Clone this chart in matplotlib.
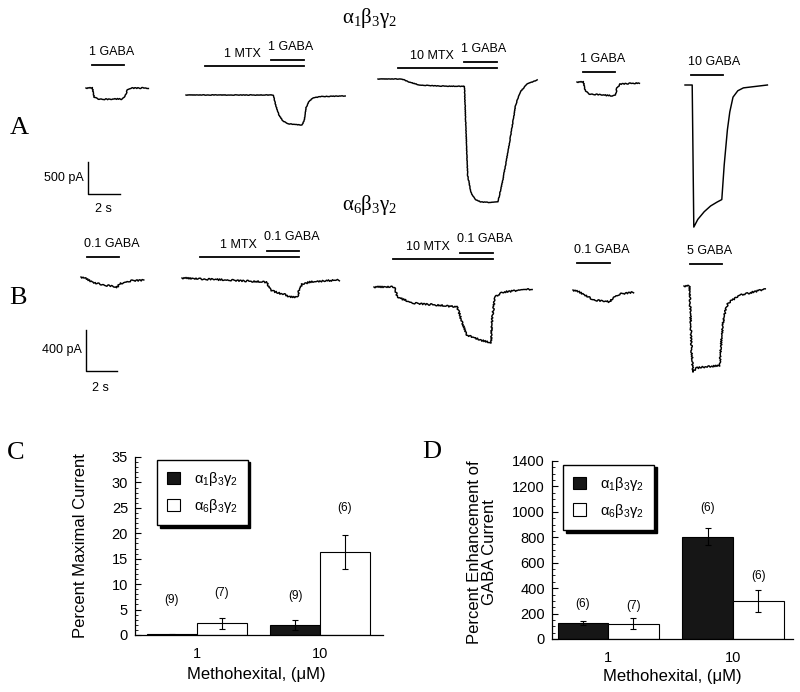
import numpy as np
import matplotlib.pyplot as plt
import matplotlib.transforms as mtransforms
from matplotlib.patches import Patch
from matplotlib.ticker import MultipleLocator

plt.rcParams['font.family'] = ['Liberation Sans', 'DejaVu Sans']

# ---- current traces: time (s) from sweep start, current (pA) from baseline ----
a1_t = [0, 0.4, 0.5, 0.7, 1.1, 1.5, 1.9, 2.2, 2.4, 2.6, 2.8, 3.9]
a1_i = [0, 0, -140, -170, -175, -180, -170, -175, -140, -30, 0, 0]
a2_t = [0, 5.45, 5.6, 5.8, 6.05, 6.4, 6.8, 7.25, 7.4, 7.5, 7.7, 7.95, 8.4, 9.95]
a2_i = [0, 0, -155, -310, -405, -450, -460, -470, -390, -200, -95, -45, -25, -15]
a3_t = [0, 1.5, 1.9, 2.6, 3.9, 5.4, 5.5, 5.6, 5.8, 6.05, 6.4, 7.0, 7.5, 7.8, 8.25, 8.6, 8.9, 9.3, 9.95]
a3_i = [0, 0, -45, -95, -110, -115, -800, -1500, -1770, -1875, -1920, -1930, -1920,
        -1580, -950, -405, -200, -80, -15]
a4_t = [0, 0.4, 0.5, 0.7, 1.4, 2.2, 2.4, 2.5, 2.7, 3.9]
a4_i = [0, 0, -125, -185, -200, -215, -200, -95, -30, -15]
a5_t = [0, 0.45, 0.5, 0.55, 0.8, 1.2, 1.6, 2.0, 2.3, 2.45, 2.65, 2.8, 3.0, 3.3, 3.65, 5.15]
a5_i = [0, 0, -1100, -2220, -2100, -1980, -1890, -1830, -1790, -1250, -700, -420, -190, -90, -45, 0]

b1_t = [0, 0.3, 0.6, 0.9, 1.25, 1.55, 1.9, 2.1, 2.3, 2.5, 2.85, 3.3, 4.05]
b1_i = [0, -15, -40, -60, -70, -80, -88, -95, -105, -68, -49, -35, -30]
b2_t = [0, 1.2, 3.1, 5.45, 5.7, 6.2, 6.6, 6.95, 7.45, 7.55, 7.75, 8.25, 9.0, 10.15]
b2_i = [0, -10, -20, -40, -117, -146, -160, -185, -185, -117, -60, -40, -30, -20]
b3_t = [0, 1.35, 1.48, 2.5, 4.0, 5.35, 5.48, 5.68, 6.0, 6.85, 7.55, 7.62, 7.8, 8.3, 10.2]
b3_i = [0, 0, -98, -156, -175, -195, -244, -350, -468, -517, -546, -320, -98, -50, -20]
b4_t = [0, 0.4, 1.3, 1.9, 2.4, 2.6, 3.0, 3.9]
b4_i = [0, -20, -95, -110, -115, -70, -40, -20]
b5_t = [0, 0.35, 0.42, 0.5, 0.58, 0.8, 1.3, 1.8, 2.3, 2.38, 2.5, 2.65, 2.85, 3.6, 5.25]
b5_i = [0, 0, -300, -650, -840, -800, -790, -785, -775, -600, -380, -250, -165, -90, -30]

# drug applications (s from sweep start); None = no methohexital
a_gaba = [(0.4, 2.4), (5.3, 7.4), (5.35, 7.45), (0.375, 2.375), (0.375, 2.375)]
a_mtx = [None, (1.2, 7.4), (1.25, 7.45), None, None]
a_gaba_lab = ['1 GABA', '1 GABA', '1 GABA', '1 GABA', '10 GABA']
a_mtx_lab = [None, '1 MTX', '10 MTX', None, None]

b_gaba = [(0.39, 2.45), (5.48, 7.55), (5.55, 7.68), (0.26, 2.39), (0.39, 2.45)]
b_mtx = [None, (1.16, 7.55), (1.23, 7.68), None, None]
b_gaba_lab = ['0.1 GABA', '0.1 GABA', '0.1 GABA', '0.1 GABA', '5 GABA']
b_mtx_lab = [None, '1 MTX', '10 MTX', None, None]

# ---- bar charts ----
conc = ['1', '10']
c_a1 = [0.1, 2.0]
c_a1_err = [0.1, 1.0]
c_a6 = [2.3, 16.3]
c_a6_err = [1.1, 3.4]
c_a1_n = ['(9)', '(9)']
c_a6_n = ['(7)', '(6)']

d_a1 = [125, 805]
d_a1_err = [18, 65]
d_a6 = [120, 300]
d_a6_err = [45, 85]
d_a1_n = ['(6)', '(6)']
d_a6_n = ['(7)', '(6)']

# ---- layout (pixels) ----
a_origin = [(86, 88), (186, 95), (378, 79), (577, 82), (685, 85)]
a_bar_y = [65, 66, 68, 72, 75]
b_origin = [(81, 277), (182, 278), (374, 287), (573, 290), (684, 286)]
b_bar_y = [257, 257, 259, 263, 264]
a_scale = (16.0, 32 / 500)      # px per s, px per pA
b_scale = (15.5, 41 / 400)

fig = plt.figure(figsize=(8, 6.92), dpi=100)
ax0 = fig.add_axes([0, 0, 1, 1])
ax0.set_xlim(0, 800)
ax0.set_ylim(692, 0)
ax0.axis('off')


def draw_panel(ts, cur, gaba, mtx, glab, mlab, origins, bar_ys, scale, noisy):
    sx, sy = scale
    for k in range(len(ts)):
        x0, y0 = origins[k]
        tr = mtransforms.Affine2D().scale(sx, -sy).translate(x0, y0) + ax0.transData
        btr = mtransforms.Affine2D().scale(sx, 1).translate(x0, 0) + ax0.transData
        ln, = ax0.plot(ts[k], cur[k], color='k', lw=1.05, transform=tr)
        if noisy[k]:
            ln.set_sketch_params(scale=noisy[k], length=1.8, randomness=2)
        by = bar_ys[k]
        if mtx[k] is not None:
            ax0.plot(mtx[k], [by, by], color='k', lw=1.3, transform=btr)
            gy = by - 6.5
            ax0.text(x0 + gaba[k][0] * sx - 10, by - 12, mlab[k], ha='right',
                     va='center', fontsize=9)
        else:
            gy = by
        ax0.plot(gaba[k], [gy, gy], color='k', lw=1.3, transform=btr)
        ax0.text(x0 + gaba[k][0] * sx - 3, gy - 13, glab[k], ha='left',
                 va='center', fontsize=9)


draw_panel([a1_t, a2_t, a3_t, a4_t, a5_t], [a1_i, a2_i, a3_i, a4_i, a5_i],
           a_gaba, a_mtx, a_gaba_lab, a_mtx_lab, a_origin, a_bar_y, a_scale,
           [0.5, 0.25, 0.25, 0.5, 0])
draw_panel([b1_t, b2_t, b3_t, b4_t, b5_t], [b1_i, b2_i, b3_i, b4_i, b5_i],
           b_gaba, b_mtx, b_gaba_lab, b_mtx_lab, b_origin, b_bar_y, b_scale,
           [0.8, 0.8, 0.8, 0.8, 0.8])

# scale bars
for (bx, by), (sx, sy), amp, lab, ty in [((88, 194), a_scale, 500, '500 pA', 209),
                                           ((86, 371), b_scale, 400, '400 pA', 388)]:
    tr = mtransforms.Affine2D().scale(sx, sy).translate(bx, by) + ax0.transData
    ax0.plot([0, 0, 2], [-amp, 0, 0], color='k', lw=1.0, transform=tr)
    ax0.text(bx - 4, by - amp * sy / 2, lab, ha='right', va='center', fontsize=9)
    ax0.text(bx + sx - 1, ty, '2 s', ha='center', va='center', fontsize=9)

ax0.text(370, 18, r'$\mathregular{\alpha_1\beta_3\gamma_2}$', ha='center', va='center',
         fontsize=15, family='Liberation Serif')
ax0.text(370, 205, r'$\mathregular{\alpha_6\beta_3\gamma_2}$', ha='center', va='center',
         fontsize=15, family='Liberation Serif')
for lab, x, y in [('A', 19, 128), ('B', 18, 298), ('C', 16, 453), ('D', 432, 452)]:
    ax0.text(x, y, lab, ha='center', va='center', fontsize=19,
             family='Liberation Serif')


def bar_panel(rect, a1, a1e, a6, a6e, n1, n6, n1_y, n6_y, ymax, major, minor,
              ylabel, ylab_xy, xlab_xy, xlim, leg_anchor):
    ax = fig.add_axes(rect)
    x = np.arange(len(conc))
    w = 0.405
    ekw = dict(ecolor='k', elinewidth=0.8, capsize=2.5, capthick=0.8)
    ax.bar(x - w / 2, a1, w, yerr=a1e, color='#161616', edgecolor='k', lw=0.8,
           error_kw=ekw)
    ax.bar(x + w / 2, a6, w, yerr=a6e, color='white', edgecolor='k', lw=0.8,
           error_kw=ekw)
    for k in range(len(conc)):
        ax.text(x[k] - w / 2, n1_y[k], n1[k], ha='center', va='center', fontsize=8.5)
        ax.text(x[k] + w / 2, n6_y[k], n6[k], ha='center', va='center', fontsize=8.5)
    ax.set_xlim(*xlim)
    ax.set_ylim(0, ymax)
    ax.set_xticks(x)
    ax.set_xticklabels(conc, fontsize=10.5)
    ax.yaxis.set_major_locator(MultipleLocator(major))
    ax.yaxis.set_minor_locator(MultipleLocator(minor))
    ax.tick_params(axis='x', length=0, pad=9)
    ax.tick_params(axis='y', which='major', direction='in', length=4, width=0.8,
                   labelsize=10.5, pad=5)
    ax.tick_params(axis='y', which='minor', direction='in', length=2.5, width=0.6)
    for s in ['top', 'right']:
        ax.spines[s].set_visible(False)
    for s in ['left', 'bottom']:
        ax.spines[s].set_linewidth(0.9)
    ax.set_ylabel(ylabel, fontsize=12, linespacing=1.0)
    ax.yaxis.set_label_coords(*ylab_xy)
    ax.set_xlabel('Methohexital, (\u03bcM)', fontsize=12)
    ax.xaxis.set_label_coords(*xlab_xy)
    handles = [Patch(facecolor='#161616', edgecolor='k', lw=0.8),
               Patch(facecolor='white', edgecolor='k', lw=0.8)]
    leg = ax.legend(handles, [r'$\mathregular{\alpha_1\beta_3\gamma_2}$',
                              r'$\mathregular{\alpha_6\beta_3\gamma_2}$'],
                    loc='upper left', bbox_to_anchor=leg_anchor, fontsize=10.5,
                    frameon=True, fancybox=False, edgecolor='k',
                    shadow={'color': 'k', 'alpha': 1.0},
                    handlelength=0.9, handleheight=0.9, handletextpad=0.9,
                    borderpad=0.7, labelspacing=0.6, borderaxespad=0)
    leg.get_frame().set_linewidth(1.0)
    return ax


bar_panel([135 / 800, 57 / 692, 248 / 800, 178 / 692], c_a1, c_a1_err, c_a6, c_a6_err,
          c_a1_n, c_a6_n, [6.9, 7.7], [8.3, 25.0], 35, 5, 1,
          'Percent Maximal Current', (-0.19, 0.5), (0.49, -0.18), (-0.5, 1.51),
          (0.089, 0.985))
bar_panel([552 / 800, 53 / 692, 241 / 800, 178 / 692], d_a1, d_a1_err, d_a6, d_a6_err,
          d_a1_n, d_a6_n, [275, 1030], [260, 495], 1400, 200, 50,
          'Percent Enhancement of\nGABA Current', (-0.23, 0.49), (0.5, -0.17),
          (-0.45, 1.48), (0.046, 0.98))

fig.savefig('out.png', dpi=100)
